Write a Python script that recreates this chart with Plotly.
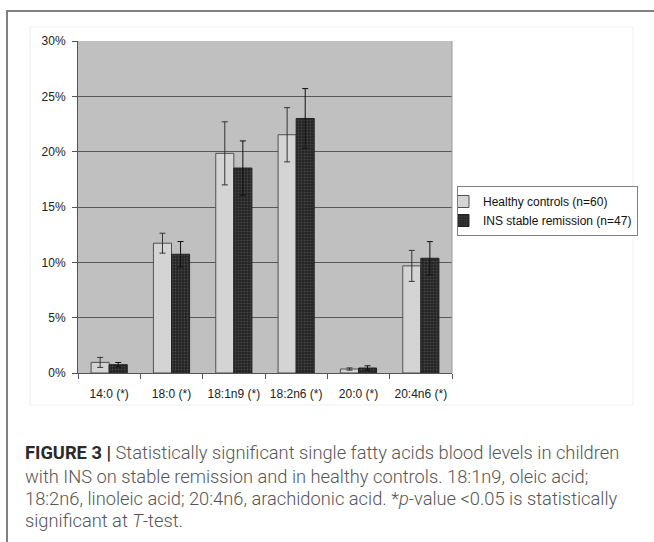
import plotly.graph_objects as go

categories = ["14:0 (*)", "18:0 (*)", "18:1n9 (*)", "18:2n6 (*)", "20:0 (*)", "20:4n6 (*)"]
healthy = [0.96, 11.73, 19.85, 21.53, 0.36, 9.68]
healthy_err = [0.45, 0.90, 2.85, 2.45, 0.10, 1.40]
ins = [0.75, 10.73, 18.52, 23.00, 0.45, 10.37]
ins_err = [0.20, 1.15, 2.45, 2.70, 0.20, 1.50]
series_names = ["Healthy controls (n=60)", "INS stable remission (n=47)"]
yticks = [0, 5, 10, 15, 20, 25, 30]
ytick_labels = [f"{v}%" for v in yticks]
caption_lines = [
    "<span style='color:#2a2a2a'><b>FIGURE 3 |</b></span> Statistically significant single fatty acids blood levels in children",
    "with INS on stable remission and in healthy controls. 18:1n9, oleic acid;",
    "18:2n6, linoleic acid; 20:4n6, arachidonic acid. *<i>p</i>-value &lt;0.05 is statistically",
    "significant at <i>T</i>-test.",
]

W, H = 654, 542
L, R, T, B = 78, 452, 41, 373
PW, PH = R - L, B - T


def px(x):
    return (x - L) / PW


def py(y):
    return (B - y) / PH


fig = go.Figure()
fig.add_trace(go.Bar(
    x=categories, y=healthy, name=series_names[0],
    marker=dict(color="#d4d4d4", line=dict(color="#505050", width=1)),
    error_y=dict(type="data", array=healthy_err, color="#333333", thickness=1, width=3),
))
fig.add_trace(go.Bar(
    x=categories, y=ins, name=series_names[1],
    marker=dict(color="#222222", line=dict(color="#222222", width=1),
                pattern=dict(shape=".", fgcolor="#6a6a6a", size=3, solidity=0.35)),
    error_y=dict(type="data", array=ins_err, color="#111111", thickness=1, width=3),
))

axis_font = dict(family="Arial, Liberation Sans, sans-serif", size=12, color="#222222")

fig.update_layout(
    width=W, height=H,
    margin=dict(l=L, r=W - R, t=T, b=H - B, pad=0),
    paper_bgcolor="white",
    plot_bgcolor="#c0c0c0",
    barmode="group",
    bargap=0.42,
    bargroupgap=0,
    font=axis_font,
    showlegend=True,
    legend=dict(
        x=px(457), y=py(186), xanchor="left", yanchor="top",
        bgcolor="white", bordercolor="#808080", borderwidth=1,
        font=dict(family="Arial, Liberation Sans, sans-serif", size=12, color="#111111"),
        indentation=-15, tracegroupgap=0, itemwidth=30,
    ),
    xaxis=dict(
        showline=True, linecolor="#555555", linewidth=1,
        ticks="outside", ticklen=5, tickcolor="#555555",
        tickson="boundaries", showgrid=False,
        tickfont=axis_font, ticklabelstandoff=10,
        mirror=False,
    ),
    yaxis=dict(
        range=[0, 30], tickmode="array", tickvals=yticks, ticktext=ytick_labels,
        showline=True, linecolor="#555555", linewidth=1,
        ticks="outside", ticklen=5, tickcolor="#555555",
        showgrid=True, gridcolor="#585858", gridwidth=1,
        zeroline=False, tickfont=axis_font, ticklabelstandoff=4,
    ),
)

shapes = [
    # right border of plot area
    dict(type="line", xref="paper", yref="paper", x0=1, x1=1, y0=0, y1=1,
         line=dict(color="#9a9a9a", width=1)),
    # faint inner image frame
    dict(type="rect", xref="paper", yref="paper", x0=px(30), x1=px(633), y0=py(405), y1=py(27),
         line=dict(color="#f0f0f0", width=1), layer="below"),
    # outer figure frame: top and left edges visible
    dict(type="rect", xref="paper", yref="paper", x0=px(7), x1=px(680), y0=py(580), y1=py(11),
         line=dict(color="#808080", width=2), fillcolor="rgba(0,0,0,0)", layer="above"),
]
fig.update_layout(shapes=shapes)

caption_y = [453, 476, 498, 520]
for line, yy in zip(caption_lines, caption_y):
    fig.add_annotation(
        text=line, xref="paper", yref="paper", x=px(23), y=py(yy),
        xanchor="left", yanchor="middle", showarrow=False, align="left",
        font=dict(family="Roboto, Helvetica, Arial, sans-serif", size=18.3, color="#555555",
                  weight=300),
    )

fig.write_html(
    "out.html",
    config={"displayModeBar": False},
    post_script="document.body.style.margin='0';document.body.style.padding='0';"
                "document.body.style.overflow='hidden';",
)
